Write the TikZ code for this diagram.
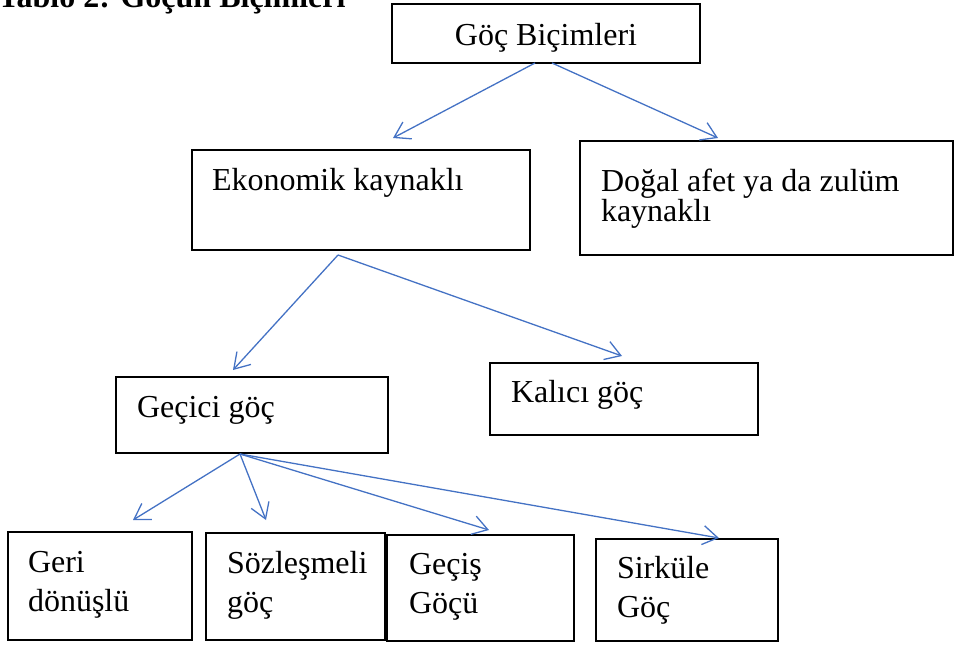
\documentclass[tikz,border=0pt]{standalone}
\usepackage{fontspec}
\setmainfont{Liberation Serif}
\usepackage{tikz}
\usetikzlibrary{arrows.meta, calc}
\definecolor{okmavi}{HTML}{4472C4}
\hyphenpenalty=10000
\tikzstyle{kutu} = [rectangle, draw=black, line width=1.6pt, outer sep=0pt, anchor=north west, inner ysep=0pt, inner xsep=21pt, align=flush left, font=\fontsize{32}{39}\selectfont]
\tikzstyle{baslik} = [anchor=base west, inner sep=0pt, font=\bfseries\fontsize{32}{38}\selectfont]
\tikzstyle{ok} = [draw=okmavi, line width=1.3pt, -{Straight Barb[length=15pt,width=19pt]}]

\begin{document}
\begin{tikzpicture}[x=1pt, y=-1pt]
        \useasboundingbox (0,0) rectangle (956,646);

        \node (tablo) [baslik] at (-2,7) {Tablo 2: Göçün Biçimleri};

        \node (gocB) [kutu, align=flush center, inner xsep=10pt, text width=288pt, text height=41pt, text depth=18pt] at (392,4) {Göç Biçimleri};
        \node (eko) [kutu, inner xsep=20pt, text width=298pt, text height=40pt, text depth=60pt] at (192,150) {Ekonomik kaynaklı};
        \node (dogal) [kutu, text width=331pt, text height=50pt, text depth=64pt, font=\fontsize{32}{30}\selectfont] at (580,141) {Doğal afet ya da zulüm\\kaynaklı};
        \node (gecici) [kutu, text width=230pt, text height=40pt, text depth=36pt] at (116,377) {Geçici göç};
        \node (kalici) [kutu, text width=226pt, text height=39pt, text depth=33pt] at (490,363) {Kalıcı göç};
        \node (geri) [kutu, inner xsep=20pt, text width=144pt, text height=40pt, text depth=68pt] at (8,532) {Geri\\dönüşlü};
        \node (sozlesmeli) [kutu, text width=137pt, text height=40pt, text depth=67pt] at (206,533) {Sözleşmeli\\göç};
        \node (gecis) [kutu, inner xsep=22pt, text width=143pt, text height=39pt, text depth=67pt] at (387,535) {Geçiş\\Göçü};
        \node (sirkule) [kutu, text width=140pt, text height=39pt, text depth=63pt] at (596,539) {Sirküle\\Göç};

        \draw [ok] ($(gocB.south)+(-11,0)$) -- ($(eko.north west)+(201,-12)$);
        \draw [ok] ($(gocB.south)+(6,0)$) -- ($(dogal.north west)+(138,-3)$);
        \draw [ok] ($(eko.south)+(-23,5)$) -- ($(gecici.north west)+(117,-7)$);
        \draw [ok] ($(eko.south)+(-23,5)$) -- ($(kalici.north west)+(132,-7)$);
        \draw [ok] ($(gecici.south)+(-12,1)$) -- ($(geri.north west)+(125,-12)$);
        \draw [ok] ($(gecici.south)+(-12,1)$) -- ($(sozlesmeli.north west)+(60,-13)$);
        \draw [ok] ($(gecici.south)+(-12,1)$) -- ($(gecis.north west)+(102,-5)$);
        \draw [ok] ($(gecici.south)+(-12,1)$) -- ($(sirkule.north west)+(123,-1)$);

      \end{tikzpicture}
\end{document}
